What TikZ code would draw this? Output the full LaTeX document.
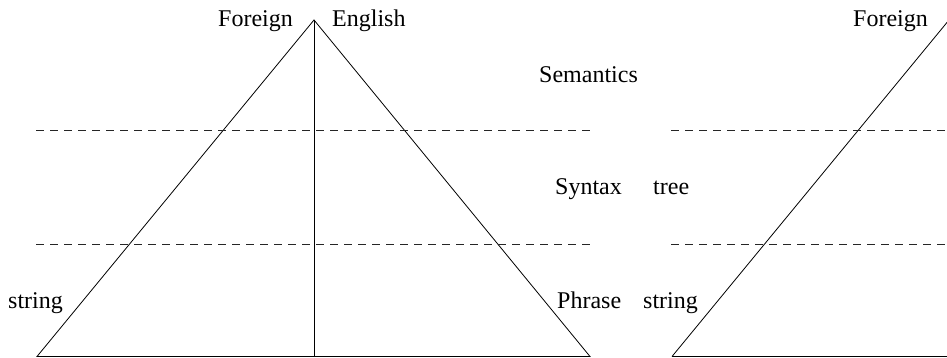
\documentclass[tikz,border=0pt]{standalone}
\usepackage{fontspec}
\setmainfont{Liberation Serif}
\begin{document}
\begin{tikzpicture}[x=1pt,y=-1pt,
  lbl/.style={font=\fontsize{24}{28}\selectfont, inner sep=0pt, anchor=base west},
  edge/.style={line width=0.8pt, black},
  level/.style={dash pattern=on 8pt off 6pt, line width=1pt, black!85}]
\useasboundingbox (0,0) rectangle (947,358);
\clip (0,0) rectangle (947,358);
% left triangle
\coordinate (A) at (314,20);
\coordinate (BL) at (37,356.5);
\coordinate (BR) at (590,356.5);
\coordinate (BM) at (314,356.5);
\draw[edge] (BL) -- (A) -- (BR) -- cycle;
\draw[edge] (A) -- (BM);
% right triangle (cut off)
\coordinate (A2) at (949,20);
\coordinate (BL2) at (672,356.5);
\coordinate (E2) at (960,356.5);
\draw[edge] (BL2) -- (A2);
\draw[edge] (BL2) -- (E2);
% levels
\coordinate (L1a) at (36,131);
\coordinate (L1b) at (590,131);
\coordinate (L2a) at (36,244);
\coordinate (L2b) at (590,244);
\coordinate (R1a) at (671,131);
\coordinate (R1b) at (950,131);
\coordinate (R2a) at (671,244);
\coordinate (R2b) at (950,244);
\draw[level] (L1a) -- (L1b);
\draw[level] (L2a) -- (L2b);
\draw[level] (R1a) -- (R1b);
\draw[level] (R2a) -- (R2b);
% labels
\node[lbl] (foreign) at (218,27) {Foreign};
\node[lbl] (english) at (332,27) {English};
\node[lbl] (semantics) at (539,83) {Semantics};
\node[lbl] (syntax) at (555,194) {Syntax};
\node[lbl] (tree) at (653,194) {tree};
\node[lbl] (phrase) at (557,308) {Phrase};
\node[lbl] (string2) at (643,308) {string};
\node[lbl] (string1) at (8,308) {string};
\node[lbl] (foreign2) at (853,27) {Foreign};
\end{tikzpicture}
\end{document}
